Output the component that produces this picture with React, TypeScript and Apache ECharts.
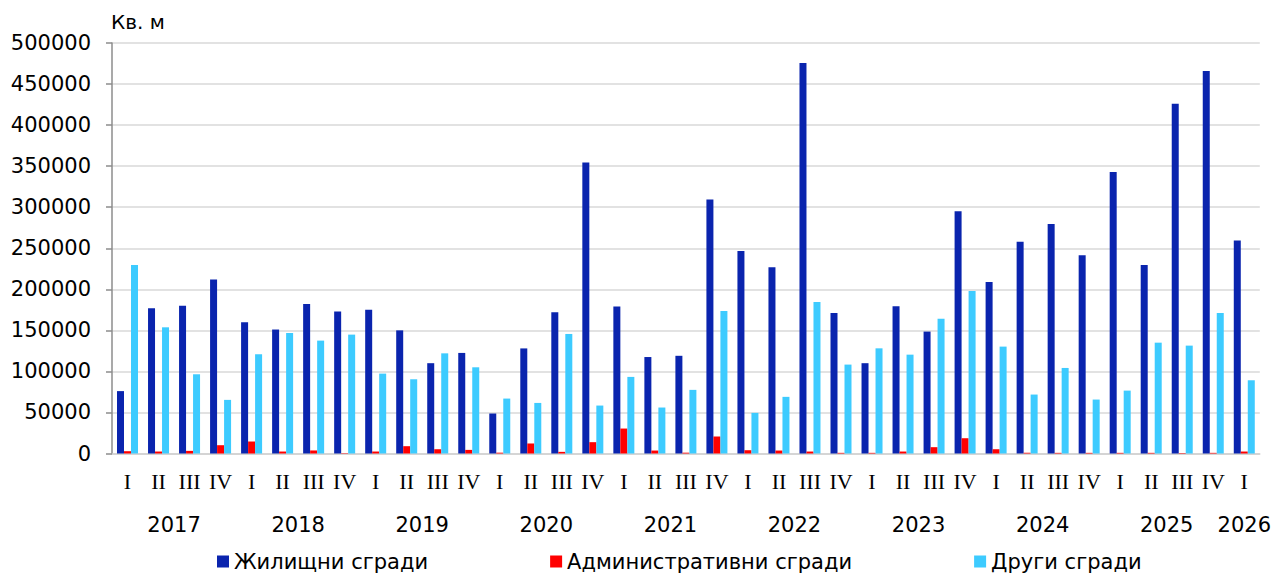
import React, { useEffect, useRef } from "react";
import * as echarts from "echarts";

const quarters: string[] = [
  "I", "II", "III", "IV", "I", "II", "III", "IV", "I", "II", "III", "IV",
  "I", "II", "III", "IV", "I", "II", "III", "IV", "I", "II", "III", "IV",
  "I", "II", "III", "IV", "I", "II", "III", "IV", "I", "II", "III", "IV", "I",
];

const years: string[] = ["2017", "2018", "2019", "2020", "2021", "2022", "2023", "2024", "2025", "2026"];
const yearPositions: number[] = [2, 6, 10, 14, 18, 22, 26, 30, 34, 36.5];

const seriesNames: string[] = ["Жилищни сгради", "Административни сгради", "Други сгради"];

const residential: number[] = [
  76000, 177000, 180000, 212000, 160000, 151000, 182000, 173000, 175000, 150000,
  110000, 122500, 48700, 128000, 172000, 354500, 179000, 117500, 119000, 309500,
  246500, 227000, 475500, 171000, 110000, 179500, 148500, 295000, 209000, 258000,
  279500, 241500, 343000, 229500, 426000, 466000, 259500,
];

const administrative: number[] = [
  2800, 2400, 3200, 10100, 14600, 2400, 3700, 500, 2400, 8900,
  5200, 4400, 1000, 12200, 2000, 13800, 30400, 3600, 1000, 20700,
  4000, 3600, 2400, 800, 800, 2400, 7700, 18600, 5200, 800,
  800, 800, 800, 800, 600, 800, 2400,
];

const other: number[] = [
  229500, 153700, 96500, 65300, 120800, 146800, 137500, 144800, 97300, 90400,
  122000, 105000, 66900, 61600, 145600, 58400, 93300, 56000, 77500, 173600,
  49500, 69000, 184500, 108300, 128100, 120400, 164200, 197900, 130200, 71800,
  104200, 65700, 76600, 135000, 131400, 171100, 89200,
];

const colors: string[] = ["#0a24ae", "#ff0000", "#3dcbff"];

export default function App() {
  const ref = useRef<HTMLDivElement>(null);
  useEffect(() => {
    if (!ref.current) return;
    const chart = echarts.init(ref.current, undefined, { renderer: "svg" });
    const sans = "DejaVu Sans";
    chart.setOption({
      animation: false,
      backgroundColor: "#ffffff",
      title: {
        text: "Кв. м",
        left: 106,
        top: 7,
        textStyle: { fontFamily: sans, fontSize: 20, fontWeight: "normal", color: "#000" },
      },
      legend: {
        data: seriesNames,
        left: 212,
        top: 546,
        icon: "rect",
        itemWidth: 12,
        itemHeight: 12,
        itemGap: 122,
        textStyle: { fontFamily: sans, fontSize: 21, color: "#000" },
      },
      grid: { left: 112, right: 13, top: 43, bottom: 119.5, containLabel: false },
      xAxis: [
        {
          type: "category",
          data: quarters,
          position: "bottom",
          axisLine: { show: true, lineStyle: { color: "#d0d0d0", width: 1.5 } },
          axisTick: { show: false },
          axisLabel: {
            interval: 0,
            fontFamily: "Liberation Serif",
            fontSize: 22,
            color: "#000",
            margin: 17,
          },
        },
        {
          type: "value",
          min: 0,
          max: 37,
          position: "bottom",
          axisLine: { show: false },
          axisTick: { show: false },
          splitLine: { show: false },
          axisLabel: {
            customValues: yearPositions,
            fontFamily: sans,
            fontSize: 21,
            color: "#000",
            margin: 61,
            formatter: (v: number) => {
              const i = yearPositions.indexOf(v);
              return i >= 0 ? years[i] : "";
            },
          },
        },
      ],
      yAxis: {
        type: "value",
        min: 0,
        max: 500000,
        interval: 50000,
        axisLine: { show: true, lineStyle: { color: "#8c8c8c", width: 1.5 } },
        axisTick: { show: true, length: 6, lineStyle: { color: "#8c8c8c", width: 1.5 } },
        splitLine: { show: true, lineStyle: { color: "#d9d9d9", width: 1.5 } },
        axisLabel: {
          fontFamily: sans,
          fontSize: 21,
          color: "#000",
          margin: 21,
          formatter: (v: number) => String(v),
        },
      },
      series: [
        { name: seriesNames[0], type: "bar", data: residential, barWidth: 7, barGap: "0%", itemStyle: { color: colors[0] } },
        { name: seriesNames[1], type: "bar", data: administrative, barWidth: 7, barGap: "0%", itemStyle: { color: colors[1] } },
        { name: seriesNames[2], type: "bar", data: other, barWidth: 7, barGap: "0%", itemStyle: { color: colors[2] } },
      ],
    });
    return () => chart.dispose();
  }, []);
  return (
    <div
      ref={ref}
      style={{ position: "fixed", left: 0, top: 0, width: 1274, height: 573, background: "#fff" }}
    />
  );
}
